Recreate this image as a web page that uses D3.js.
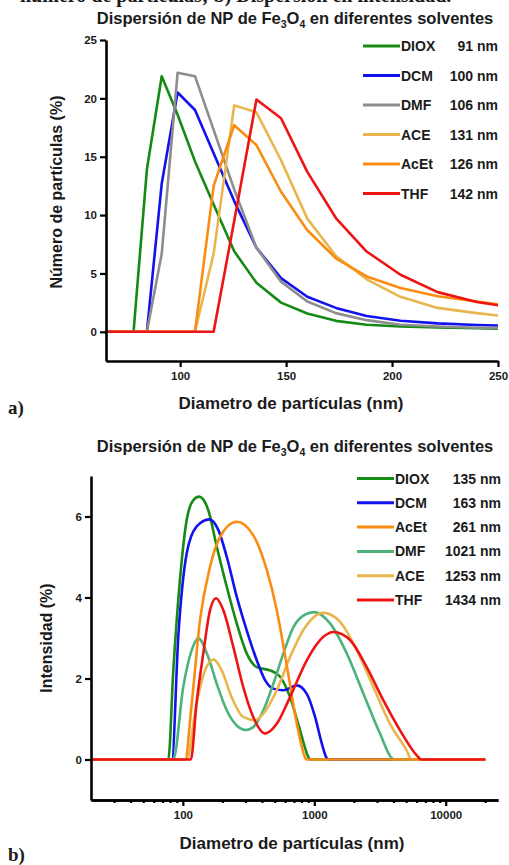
<!DOCTYPE html>
<html>
<head>
<meta charset="utf-8">
<script src="https://cdn.jsdelivr.net/npm/d3@7"></script>
<style>
  body { margin: 0; background: #fff; }
  text { font-family: "Liberation Sans", Arial, sans-serif; font-weight: bold; fill: #1b1b1b; }
</style>
</head>
<body>
<svg id="chart" width="509" height="865"></svg>
<script>
// ---- a) número de partículas ----
const binsA = [61.4, 66.5, 72, 78, 84.3, 91.3, 98.8, 107, 115.8, 125.5, 136, 147.6, 160, 173.5, 188, 204, 221.5, 240, 260];
const dioxA = [0, 0, 0, 0, 13.9, 21.9, 18.6, 14.6, 10.9, 6.9, 4.2, 2.5, 1.57, 0.94, 0.6, 0.46, 0.37, 0.3, 0.25];
const dcmA  = [0, 0, 0, 0, 0, 12.7, 20.5, 19.0, 15.3, 11.2, 7.2, 4.6, 3.0, 2.05, 1.35, 0.95, 0.72, 0.58, 0.5];
const dmfA  = [0, 0, 0, 0, 0, 6.7, 22.2, 21.9, 17.3, 12.2, 7.2, 4.3, 2.6, 1.6, 1.0, 0.6, 0.45, 0.35, 0.3];
const aceA  = [0, 0, 0, 0, 0, 0, 0, 0, 6.7, 19.4, 18.8, 14.7, 9.7, 6.5, 4.5, 3.0, 2.05, 1.6, 1.2];
const acetA = [0, 0, 0, 0, 0, 0, 0, 0, 12.5, 17.7, 16.0, 12.0, 8.7, 6.3, 4.74, 3.75, 3.05, 2.6, 2.1];
const thfA  = [0, 0, 0, 0, 0, 0, 0, 0, 0, 9.5, 19.9, 18.3, 13.7, 9.75, 6.88, 4.89, 3.4, 2.55, 2.0];
const namesA = ["DIOX", "DCM", "DMF", "ACE", "AcEt", "THF"];
const sizesA = ["91 nm", "100 nm", "106 nm", "131 nm", "126 nm", "142 nm"];
const xTicksA = [100, 150, 200, 250];
const yTicksA = [0, 5, 10, 15, 20, 25];

// ---- b) intensidad ----  [diámetro nm, %]
const dioxB = [[20,0],[77.5,0],[84.6,2.2],[95,4.43],[107,5.92],[120,6.4],[133,6.49],[156,6.16],[181,5.26],[216,4.26],[257,3.36],[306,2.62],[365,2.28],[460,2.2],[548,2.05],[654,1.54],[780,0.72],[902,0.06],[930,0],[20000,0]];
const dcmB  = [[20,0],[82.6,0],[92.3,3.03],[107,5.09],[127,5.75],[159,5.93],[186,5.67],[216,5.0],[257,4.02],[306,3.19],[365,2.45],[422,1.96],[488,1.75],[582,1.71],[735,1.83],[877,1.62],[1014,1.05],[1140,0.4],[1245,0.03],[1280,0],[20000,0]];
const acetB = [[20,0],[104,0],[116.8,1.38],[135,3.44],[161,4.76],[192,5.5],[257,5.87],[343,5.54],[435,4.68],[518,3.69],[617,2.33],[735,0.9],[851,0.05],[870,0],[20000,0]];
const dmfB  = [[20,0],[84.6,0],[100.7,1.79],[116.8,2.7],[131,2.99],[156,2.53],[181,1.87],[216,1.21],[257,0.84],[300,0.73],[343,0.8],[409,1.21],[488,1.87],[582,2.62],[694,3.27],[877,3.6],[1000,3.64],[1318,3.36],[1766,2.62],[2362,1.63],[3163,0.64],[3900,0.03],[4050,0],[20000,0]];
const aceB  = [[20,0],[107,0],[127,1.38],[147.5,2.2],[170.6,2.47],[197.6,2.2],[234.8,1.54],[288,1.05],[355,0.97],[409,1.13],[518,1.71],[654,2.53],[823,3.19],[1172,3.62],[1571,3.4],[2104,2.7],[2814,1.79],[3770,0.88],[5050,0.22],[5500,0],[20000,0]];
const thfB  = [[20,0],[115,0],[127,1.38],[143,2.62],[161,3.69],[179,3.98],[203,3.69],[242,2.78],[288,1.79],[343,1.05],[422,0.64],[518,0.88],[654,1.54],[877,2.45],[1172,3.03],[1397,3.15],[1871,2.95],[2506,2.28],[3357,1.46],[4496,0.72],[6025,0.1],[6500,0],[20000,0]];
const namesB = ["DIOX", "DCM", "AcEt", "DMF", "ACE", "THF"];
const sizesB = ["135 nm", "163 nm", "261 nm", "1021 nm", "1253 nm", "1434 nm"];
const xTicksB = [100, 1000, 10000];
const yTicksB = [0, 2, 4, 6];

const col = {DIOX: "#158a15", DCM: "#1212ee", DMF: "#8d8d8d", ACE: "#e8b64c", AcEt: "#fb8c12", THF: "#ee1414", DMFb: "#4cb37c"};

const svg = d3.select("#chart");

// texto cortado arriba (pie de figura anterior)
svg.append("text").attr("x", 20).attr("y", 2)
    .style("font-family", "'Liberation Serif', serif").style("font-size", "20px")
    .text("número de partículas; b) Dispersión en intensidad.");

function title(y) {
    const t = svg.append("text").attr("x", 295).attr("y", y).attr("text-anchor", "middle").style("font-size", "16.5px");
    t.append("tspan").text("Dispersión de NP de Fe");
    t.append("tspan").attr("dy", 4).style("font-size", "10.5px").text("3");
    t.append("tspan").attr("dy", -4).text("O");
    t.append("tspan").attr("dy", 4).style("font-size", "10.5px").text("4");
    t.append("tspan").attr("dy", -4).text(" en diferentes solventes");
}

function styleAxis(g) {
    g.select(".domain").attr("stroke", "#000").attr("stroke-width", 2.6);
    g.selectAll(".tick line").attr("stroke", "#000").attr("stroke-width", 2.2);
    g.selectAll(".tick text").style("font-size", "11.5px").style("font-family", "'Liberation Sans', Arial, sans-serif");
}

function legend(names, sizes, colors, x0, y0, dy, xRight) {
    names.forEach((n, i) => {
        const y = y0 + i * dy;
        svg.append("line").attr("x1", x0).attr("x2", x0 + 37).attr("y1", y).attr("y2", y)
            .attr("stroke", colors[i]).attr("stroke-width", 3);
        svg.append("text").attr("x", x0 + 38).attr("y", y + 5).style("font-size", "14px").text(n);
        svg.append("text").attr("x", xRight).attr("y", y + 5).attr("text-anchor", "end").style("font-size", "14px").text(sizes[i]);
    });
}

// ===== chart a =====
const xA = d3.scaleLinear().domain([65, 250]).range([106, 498]);
const yA = d3.scaleLinear().domain([-2.5, 25]).range([361, 40]);

title(24);

svg.append("clipPath").attr("id", "clipA").append("rect")
    .attr("x", 106).attr("y", 0).attr("width", 392).attr("height", 361);

const lineA = d3.line().x(d => xA(d[0])).y(d => yA(d[1]));
const seriesA = [["DIOX", dioxA], ["DCM", dcmA], ["DMF", dmfA], ["ACE", aceA], ["AcEt", acetA], ["THF", thfA]];
const gA = svg.append("g").attr("clip-path", "url(#clipA)");
seriesA.forEach(([n, v]) => {
    gA.append("path").datum(binsA.map((b, i) => [b, v[i]]))
        .attr("fill", "none").attr("stroke", col[n]).attr("stroke-width", 2.6)
        .attr("stroke-linejoin", "round").attr("d", lineA);
});

svg.append("g").attr("transform", "translate(0,361)")
    .call(d3.axisBottom(xA).tickValues(xTicksA).tickSize(6).tickSizeOuter(0).tickPadding(5))
    .call(styleAxis);
svg.append("g").attr("transform", "translate(106,0)")
    .call(d3.axisLeft(yA).tickValues(yTicksA).tickSize(6).tickSizeOuter(0).tickPadding(3))
    .call(styleAxis);

svg.append("text").attr("x", 291).attr("y", 409).attr("text-anchor", "middle").style("font-size", "17px")
    .text("Diametro de partículas (nm)");
svg.append("text").attr("transform", "translate(62,192) rotate(-90)").attr("text-anchor", "middle").style("font-size", "16px")
    .text("Número de partículas (%)");
svg.append("text").attr("x", 8).attr("y", 414)
    .style("font-family", "'Liberation Serif', serif").style("font-size", "19px").text("a)");

legend(namesA, sizesA, namesA.map(n => col[n]), 363, 46, 29.5, 498);

// ===== chart b =====
const xB = d3.scaleLog().domain([20, 25000]).range([91, 498]);
const yB = d3.scaleLinear().domain([-1, 7]).range([800, 476]);

title(452);

svg.append("clipPath").attr("id", "clipB").append("rect")
    .attr("x", 91).attr("y", 470).attr("width", 407).attr("height", 330);

const lineB = d3.line().x(d => xB(d[0])).y(d => yB(d[1])).curve(d3.curveMonotoneX);
const seriesB = [[col.DIOX, dioxB], [col.DCM, dcmB], [col.DMFb, dmfB], [col.ACE, aceB], [col.AcEt, acetB], [col.THF, thfB]];
const gB = svg.append("g").attr("clip-path", "url(#clipB)");
seriesB.forEach(([c, v]) => {
    gB.append("path").datum(v)
        .attr("fill", "none").attr("stroke", c).attr("stroke-width", 2.6)
        .attr("stroke-linejoin", "round").attr("d", lineB);
});

const minorB = xB.ticks().filter(t => !xTicksB.includes(t) && t > 20 && t < 25000);
svg.append("g").attr("transform", "translate(0,800)")
    .call(d3.axisBottom(xB).tickValues(minorB).tickFormat("").tickSize(3).tickSizeOuter(0))
    .call(styleAxis);
svg.append("g").attr("transform", "translate(0,800)")
    .call(d3.axisBottom(xB).tickValues(xTicksB).tickFormat(d3.format("d")).tickSize(6).tickSizeOuter(0).tickPadding(5))
    .call(styleAxis);
svg.append("g").attr("transform", "translate(91,0)")
    .call(d3.axisLeft(yB).tickValues(yTicksB).tickSize(6).tickSizeOuter(0).tickPadding(3))
    .call(styleAxis);

svg.append("text").attr("x", 292).attr("y", 849).attr("text-anchor", "middle").style("font-size", "17px")
    .text("Diametro de partículas (nm)");
svg.append("text").attr("transform", "translate(52,638) rotate(-90)").attr("text-anchor", "middle").style("font-size", "16px")
    .text("Intensidad (%)");
svg.append("text").attr("x", 8).attr("y", 861)
    .style("font-family", "'Liberation Serif', serif").style("font-size", "19px").text("b)");

legend(namesB, sizesB, namesB.map(n => n === "DMF" ? col.DMFb : col[n]), 357, 478.5, 24.3, 501);
</script>
</body>
</html>
